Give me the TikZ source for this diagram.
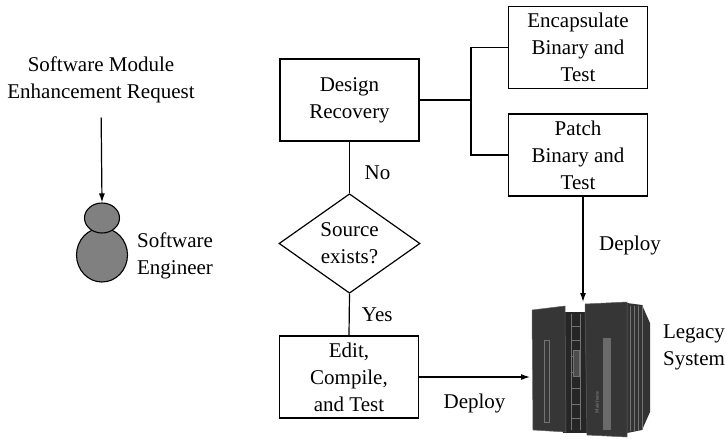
\documentclass[tikz,border=0pt]{standalone}
\usepackage{fontspec}
\setmainfont{Liberation Serif}
\usetikzlibrary{shapes.geometric,arrows.meta}
\begin{document}
\begin{tikzpicture}[x=1pt,y=-1pt,
  every node/.style={font=\fontsize{21}{27}\selectfont},
  line/.style={line width=1.2pt},
  arrow/.style={line, -{Latex[length=9pt,width=6pt]}},
  stepbox/.style={draw, line width=1.2pt, minimum width=139pt, minimum height=82pt,
    inner sep=0pt, align=center},
  decision/.style={draw, diamond, line width=1.2pt, minimum width=141pt,
    minimum height=97pt, inner sep=0pt, align=center},
  lbl/.style={align=center, inner sep=0pt},
  personpart/.style={draw, ellipse, line width=1.1pt, fill=black!50, inner sep=0pt},
  panel/.style={fill=black!79, draw=black!62, line width=0.5pt},
  detail/.style={draw=black!55, line width=0.5pt}
]
\useasboundingbox (0,0) rectangle (726,439);

% requester
\node[lbl] (req) at (101,80) {Software Module\\Enhancement Request};
\node[personpart, minimum width=51pt, minimum height=54pt] (body) at (102,255) {};
\node[personpart, minimum width=35pt, minimum height=30pt] (head) at (102,218) {};
\node[lbl, align=left] (eng) at (175,256) {Software\\Engineer};
\draw[arrow, shorten <=14pt] (req.south) -- (head.north);

% process steps
\node[stepbox] (dr) at (349.5,100) {Design\\Recovery};
\node[stepbox] (enc) at (578,47.5) {Encapsulate\\Binary and\\Test};
\node[stepbox] (patch) at (578,155) {Patch\\Binary and\\Test};
\node[decision] (src) at (349.5,243.5) {Source\\exists?};
\node[stepbox] (edit) at (349,377) {Edit,\\Compile,\\and Test};

\coordinate (split) at (471,100);
\draw[line] (dr.east) -- (split) |- (enc.west);
\draw[line] (split) |- (patch.west);
\draw[line] (dr.south) -- (src.north) node[midway, xshift=28pt, yshift=-5pt] {No};
\draw[line] (src.south) -- (edit.north) node[midway, xshift=28pt] {Yes};

% legacy mainframe
\coordinate (mfleft) at (530,377);
\coordinate (mftop) at (583,302);
% side stack
\fill[black!80] (627,303) -- (642,305) -- (650,323) -- (650,412) -- (642,430) -- (627,433) -- cycle;
\foreach \sx in {630,634,638} \draw[detail] (\sx,306) -- (\sx,431);
\draw[detail] (642,305) -- (642,430);
% middle section
\fill[black!85] (563,312) rectangle (588,433);
\foreach \mx in {571,580} \draw[detail] (\mx,314) -- (\mx,430);
\draw[detail] (571,326) -- (580,326) (571,340) -- (580,340) (571,356) -- (580,356)
  (571,372) -- (580,372) (571,388) -- (580,388) (571,404) -- (580,404) (571,418) -- (580,418);
\draw[detail, fill=black!70] (573,350) rectangle (579,376);
% left panel
\draw[panel] (532,310) -- (565,306) -- (566,432) -- (533,430) -- cycle;
\draw[detail, fill=black!78] (544,340) rectangle (549,422);
% right panel
\draw[panel] (585,304) -- (627,302) -- (627,437) -- (587,435) -- cycle;
\fill[black!58] (603,338) rectangle (611,430);
\node[font=\fontsize{5}{6}\selectfont, text=black!45, rotate=90, inner sep=0pt] (mflabel) at (597,402) {Mainframe};
\node[lbl, align=left] (legacy) at (694,347) {Legacy\\System};

% deployment
\draw[arrow] (edit.east |- mfleft) -- (mfleft) node[midway, yshift=-26pt] {Deploy};
\draw[arrow] (patch.south -| mftop) -- (mftop) node[midway, xshift=47pt, yshift=4pt] {Deploy};
\end{tikzpicture}
\end{document}
